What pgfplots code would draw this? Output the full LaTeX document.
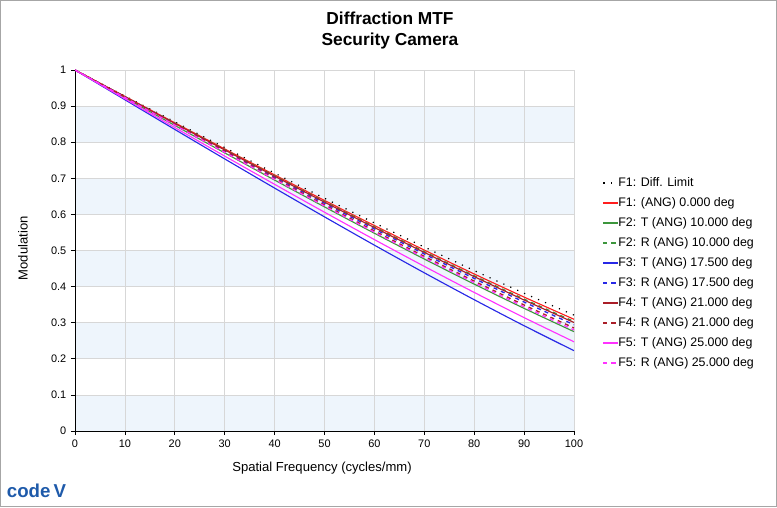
\documentclass[border=0pt]{standalone}
\usepackage{pgfplots}
\pgfplotsset{compat=1.18}
\usepackage{fontspec}
\setmainfont{Liberation Sans}
\definecolor{bandblue}{RGB}{238,245,252}
\definecolor{gridgray}{RGB}{215,215,215}
\definecolor{mred}{RGB}{255,30,30}
\definecolor{mgreen}{RGB}{60,150,60}
\definecolor{mblue}{RGB}{40,40,230}
\definecolor{mdred}{RGB}{170,30,40}
\definecolor{mmag}{RGB}{255,50,255}
\definecolor{logoblue}{RGB}{30,90,170}
\begin{document}
\begin{tikzpicture}[x=1pt,y=1pt]
\draw[gray!70, line width=0.8pt] (0.4,0.4) rectangle (582.35,379.85);
% background bands
\begin{axis}[
  at={(56.25pt,57pt)}, anchor=south west,
  scale only axis, width=374.25pt, height=270.75pt,
  xmin=0, xmax=100, ymin=0, ymax=1,
  hide axis,
]
\addplot[fill=bandblue, draw=none] coordinates {(0,0) (100,0) (100,0.1) (0,0.1)} -- cycle;
\addplot[fill=bandblue, draw=none] coordinates {(0,0.2) (100,0.2) (100,0.3) (0,0.3)} -- cycle;
\addplot[fill=bandblue, draw=none] coordinates {(0,0.4) (100,0.4) (100,0.5) (0,0.5)} -- cycle;
\addplot[fill=bandblue, draw=none] coordinates {(0,0.6) (100,0.6) (100,0.7) (0,0.7)} -- cycle;
\addplot[fill=bandblue, draw=none] coordinates {(0,0.8) (100,0.8) (100,0.9) (0,0.9)} -- cycle;
\end{axis}
\begin{axis}[
  at={(56.25pt,57pt)}, anchor=south west,
  scale only axis, width=374.25pt, height=270.75pt,
  xmin=0, xmax=100, ymin=0, ymax=1,
  xtick={0,10,...,100},
  ytick={0,0.1,...,1},
  yticklabels={0,0.1,0.2,0.3,0.4,0.5,0.6,0.7,0.8,0.9,1},
  /pgf/number format/assume math mode=true,
  ticklabel style={font=\fontsize{8.2}{9}\selectfont},
  grid=major,
  major grid style={gridgray, line width=0.6pt},
  axis x line*=bottom, axis y line*=left,
  axis line style={black, line width=0.6pt},
  tick align=outside, major tick length=3pt,
  tick style={black, line width=0.5pt},
  legend style={at={(1.057,0.705)}, anchor=north west, draw=none, fill=none,
    font=\fontsize{9.3}{10}\selectfont, row sep=6pt, inner sep=0pt,
    nodes={text height=7pt, text depth=2pt, inner sep=0pt},
    cells={anchor=west}},
  legend cell align=left,
  legend image post style={xscale=0.62, line width=1.15pt},
]
% F1 Diff limit
\addplot[color=black, line width=0.9pt, dash pattern=on 0.9pt off 4.8pt, smooth] coordinates {
(0,1) (10,0.9280) (20,0.8563) (30,0.7850) (40,0.7144) (50,0.6448) (60,0.5764) (70,0.5096) (80,0.4445) (90,0.3816) (100,0.3211)};
\addlegendentry{F1: Diff. Limit}
% F1 ANG 0
\addplot[color=mred, line width=0.85pt, smooth] coordinates {
(0,1) (10,0.9268) (20,0.8538) (30,0.7813) (40,0.7095) (50,0.6387) (60,0.5692) (70,0.5012) (80,0.4350) (90,0.3710) (100,0.3095)};
\addlegendentry{F1: (ANG) 0.000 deg}
% F2 T
\addplot[color=mgreen, line width=0.85pt, smooth] coordinates {
(0,1) (10,0.9231) (20,0.8465) (30,0.7704) (40,0.6951) (50,0.6208) (60,0.5478) (70,0.4764) (80,0.4069) (90,0.3397) (100,0.2752)};
\addlegendentry{F2: T (ANG) 10.000 deg}
% F2 R
\addplot[color=mgreen, line width=1pt, dash pattern=on 3pt off 3pt, smooth] coordinates {
(0,1) (10,0.9261) (20,0.8525) (30,0.7793) (40,0.7069) (50,0.6355) (60,0.5653) (70,0.4967) (80,0.4299) (90,0.3653) (100,0.3033)};
\addlegendentry{F2: R (ANG) 10.000 deg}
% F3 T
\addplot[color=mblue, line width=0.85pt, smooth] coordinates {
(0,1) (10,0.9176) (20,0.8353) (30,0.7537) (40,0.6729) (50,0.5932) (60,0.5148) (70,0.4382) (80,0.3637) (90,0.2916) (100,0.2224)};
\addlegendentry{F3: T (ANG) 17.500 deg}
% F3 R
\addplot[color=mblue, line width=1pt, dash pattern=on 3pt off 3pt, smooth] coordinates {
(0,1) (10,0.9252) (20,0.8506) (30,0.7765) (40,0.7032) (50,0.6308) (60,0.5598) (70,0.4903) (80,0.4226) (90,0.3572) (100,0.2944)};
\addlegendentry{F3: R (ANG) 17.500 deg}
% F4 T
\addplot[color=mdred, line width=0.85pt, smooth] coordinates {
(0,1) (10,0.9258) (20,0.8519) (30,0.7785) (40,0.7058) (50,0.6341) (60,0.5636) (70,0.4947) (80,0.4277) (90,0.3628) (100,0.3006)};
\addlegendentry{F4: T (ANG) 21.000 deg}
% F4 R
\addplot[color=mdred, line width=1pt, dash pattern=on 3pt off 3pt, smooth] coordinates {
(0,1) (10,0.9242) (20,0.8487) (30,0.7737) (40,0.6994) (50,0.6262) (60,0.5542) (70,0.4838) (80,0.4153) (90,0.3491) (100,0.2855)};
\addlegendentry{F4: R (ANG) 21.000 deg}
% F5 T
\addplot[color=mmag, line width=0.85pt, smooth] coordinates {
(0,1) (10,0.9202) (20,0.8406) (30,0.7615) (40,0.6833) (50,0.6061) (60,0.5302) (70,0.4561) (80,0.3839) (90,0.3141) (100,0.2471)};
\addlegendentry{F5: T (ANG) 25.000 deg}
% F5 R
\addplot[color=mmag, line width=1pt, dash pattern=on 3pt off 3pt, smooth] coordinates {
(0,1) (10,0.9237) (20,0.8475) (30,0.7719) (40,0.6971) (50,0.6233) (60,0.5508) (70,0.4799) (80,0.4109) (90,0.3441) (100,0.2800)};
\addlegendentry{F5: R (ANG) 25.000 deg}
\end{axis}
\node[font=\bfseries\fontsize{13}{14}\selectfont] at (292.5,366.5) {Diffraction MTF};
\node[font=\bfseries\fontsize{13}{14}\selectfont] at (292.5,349.5) {Security Camera};
\node[rotate=90, font=\fontsize{9.8}{10}\selectfont] at (17.25,194) {Modulation};
\node[font=\fontsize{9.8}{10}\selectfont] at (241.5,29) {Spatial Frequency (cycles/mm)};
\node[anchor=west, inner sep=0pt, text=logoblue, font=\bfseries\fontsize{14}{14}\selectfont] at (5,12) {code\,V};
\pgfresetboundingbox
\path (0,0) rectangle (582.75,380.25);
\end{tikzpicture}
\end{document}
